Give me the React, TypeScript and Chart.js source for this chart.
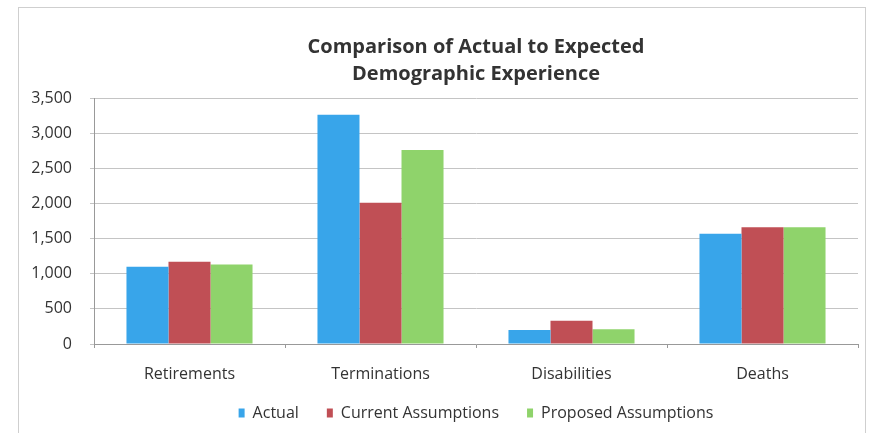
import React, { useEffect, useRef } from "react";
import { Chart, registerables } from "chart.js";

Chart.register(...registerables);

const categories = ["Retirements", "Terminations", "Disabilities", "Deaths"];
const actual = [1100, 3260, 200, 1570];
const currentAssumptions = [1170, 2010, 330, 1660];
const proposedAssumptions = [1130, 2760, 210, 1660];
const titleLines = ["Comparison of Actual to Expected", "Demographic Experience"];

const FONT = "'Open Sans', 'Liberation Sans', sans-serif";

const extendXLabelArea = {
  id: "extendXLabelArea",
  afterLayout(chart: any) {
    const x = chart.scales.x;
    if (x) x.bottom = x.top + 48;
  },
};

export default function App() {
  const ref = useRef<HTMLCanvasElement | null>(null);
  useEffect(() => {
    if (!ref.current) return;
    const chart = new Chart(ref.current, {
      type: "bar",
      data: {
        labels: categories,
        datasets: [
          { label: "Actual", data: actual, backgroundColor: "#38a5ea" },
          { label: "Current Assumptions", data: currentAssumptions, backgroundColor: "#c04f55" },
          { label: "Proposed Assumptions", data: proposedAssumptions, backgroundColor: "#8fd36b" },
        ],
      },
      plugins: [extendXLabelArea],
      options: {
        animation: false,
        responsive: false,
        devicePixelRatio: 1,
        layout: { padding: { left: 10, right: 7, top: 11, bottom: 2 } },
        datasets: { bar: { categoryPercentage: 0.66, barPercentage: 1 } },
        plugins: {
          title: {
            display: true,
            text: titleLines,
            fullSize: false,
            color: "#333",
            font: { family: FONT, size: 20, weight: "bold", lineHeight: 1.35 },
            padding: { top: 14.5, bottom: 10.5 },
          },
          legend: {
            position: "bottom",
            fullSize: false,
            labels: {
              color: "#333",
              font: { family: FONT, size: 16 },
              boxWidth: 6,
              boxHeight: 9,
              padding: 28,
            },
          },
          tooltip: { enabled: false },
        },
        scales: {
          x: {
            offset: true,
            afterFit: (s: any) => { s.height = 33; },
            grid: { offset: true, drawOnChartArea: false, drawTicks: true, tickLength: 4, color: "#999" },
            border: { color: "#999" },
            ticks: { color: "#333", font: { family: FONT, size: 16, lineHeight: 1.2 }, padding: 17 },
          },
          y: {
            min: 0,
            max: 3500,
            afterFit: (s: any) => { s.width = 65; },
            grid: { color: "#c4c4c4", tickLength: 4 },
            border: { color: "#999" },
            ticks: {
              stepSize: 500,
              color: "#333",
              padding: 18,
              font: { family: FONT, size: 16 },
              callback: (v: any) => Number(v).toLocaleString("en-US"),
            },
          },
        },
      },
    });
    return () => chart.destroy();
  }, []);
  return (
    <div
      style={{
        position: "absolute",
        left: 18,
        top: 7,
        width: 846,
        height: 426,
        border: "1px solid #cfcfcf",
        borderBottom: "none",
        background: "#fff",
        overflow: "hidden",
      }}
    >
      <canvas ref={ref} width={846} height={425} style={{ display: "block" }} />
    </div>
  );
}
